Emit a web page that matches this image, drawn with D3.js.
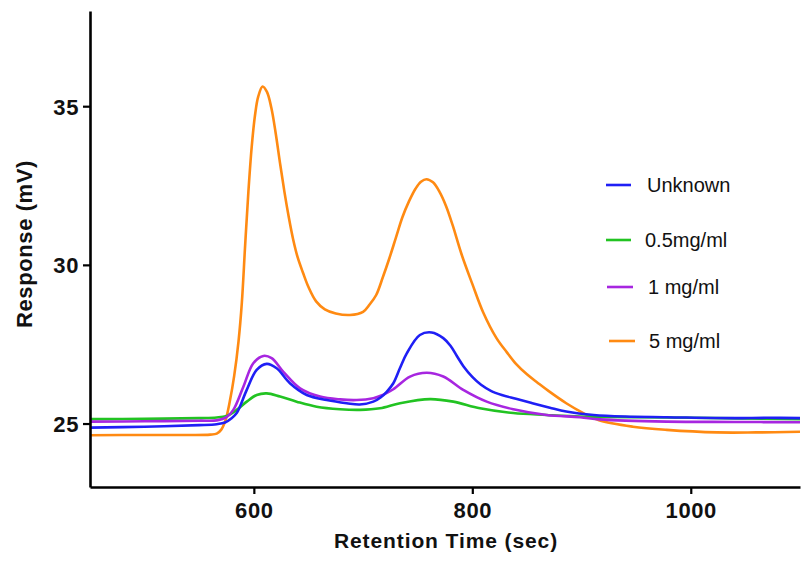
<!DOCTYPE html>
<html><head><meta charset="utf-8">
<script src="https://cdn.jsdelivr.net/npm/d3@7"></script>
<style>
html,body{margin:0;padding:0;background:#fff;}
svg{display:block;font-family:"Liberation Sans",Arial,sans-serif;}
</style></head>
<body>
<svg id="chart" width="802" height="563"></svg>
<script>
// ---- data ----
const seriesNames = ["Unknown", "0.5mg/ml", "1 mg/ml", "5 mg/ml"];
const seriesColors = ["#1f1ff5", "#22c322", "#a726e0", "#ff8a12"];
const xTicks = [600, 800, 1000];
const yTicks = [25, 30, 35];

const unknownX = [450,500,550,566,573.6,579,584.3,593.5,602.6,611.8,620.9,633,648.4,666.7,685,697,709.4,716,721.6,727.7,733.8,740,752,762.8,773.4,780,786,792,800,808,817,827,840,855,871,886,911,940,978,1039,1069,1100];
const unknownY = [24.87,24.9,24.95,24.98,25.03,25.15,25.33,26.06,26.69,26.88,26.74,26.27,25.9,25.74,25.64,25.6,25.69,25.82,26.0,26.27,26.75,27.21,27.79,27.87,27.69,27.45,27.12,26.8,26.47,26.22,26.03,25.9,25.78,25.64,25.5,25.38,25.27,25.22,25.2,25.17,25.18,25.17];

const lowX = [450,500,550,566,575,584.3,593.5,602.6,611.8,624,639.2,657.5,678.9,697.2,715.5,733.8,761.3,782.6,807,837.5,868,898.6,920,1000,1100];
const lowY = [25.14,25.15,25.17,25.19,25.24,25.43,25.69,25.9,25.95,25.85,25.69,25.53,25.45,25.43,25.48,25.64,25.77,25.69,25.48,25.33,25.27,25.22,25.21,25.18,25.14];

const midX = [450,500,550,566,575,581.2,590.4,599.5,608.7,616.3,627,642.3,660.6,678.9,694.2,709.4,718,727.7,743,758.3,773.4,791.7,813.2,837.5,868,898.6,916.9,978,1040,1100];
const midY = [25.06,25.07,25.09,25.1,25.2,25.43,26.16,26.9,27.13,27.06,26.63,26.11,25.85,25.76,25.74,25.8,25.9,26.08,26.48,26.6,26.48,26.06,25.69,25.45,25.27,25.2,25.13,25.06,25.05,25.04];

const highX = [450,500,540,560,566,570,574,578,582,586,589,592,595,598,601,604,608,612,616,620,624,628,632,636,640,645,650,657,665,675,688,700,706,712,718,724,730,736,742,748,753,758,764,770,776,782,790,800,810,822,831.5,840,850,860,870,886,901.6,916,947,978,1024,1060,1100];
const highY = [24.63,24.64,24.64,24.65,24.68,24.8,25.1,25.7,26.5,27.6,28.8,30.6,32.3,33.7,34.7,35.3,35.62,35.45,34.95,34.15,33.2,32.3,31.5,30.8,30.25,29.75,29.3,28.85,28.6,28.47,28.42,28.52,28.75,29.05,29.6,30.2,30.85,31.5,32.0,32.4,32.62,32.7,32.6,32.3,31.85,31.25,30.35,29.4,28.5,27.7,27.25,26.88,26.55,26.28,26.02,25.64,25.33,25.1,24.9,24.8,24.72,24.72,24.74];

const seriesX = [unknownX, lowX, midX, highX];
const seriesY = [unknownY, lowY, midY, highY];

// ---- layout ----
const svg = d3.select("#chart");
const x = d3.scaleLinear().domain([450, 1100]).range([90, 800]);
const y = d3.scaleLinear().domain([23, 38]).range([487, 11]);

svg.append("defs").append("clipPath").attr("id", "clip")
  .append("rect").attr("x", 90).attr("y", 11).attr("width", 712).attr("height", 476);

const line = d3.line().x(d => x(d[0])).y(d => y(d[1])).curve(d3.curveCatmullRom.alpha(0.5));

const drawOrder = [3, 1, 2, 0];
const g = svg.append("g").attr("clip-path", "url(#clip)");
drawOrder.forEach(i => {
  const pts = seriesX[i].map((v, k) => [v, seriesY[i][k]]);
  g.append("path").datum(pts)
    .attr("d", line)
    .attr("fill", "none")
    .attr("stroke", seriesColors[i])
    .attr("stroke-width", 2.6)
    .attr("stroke-linejoin", "round");
});

// axes
const xAxis = svg.append("g").attr("transform", "translate(0,487)")
  .call(d3.axisBottom(x).tickValues(xTicks).tickFormat(d3.format("d")).tickSize(7).tickSizeOuter(0).tickPadding(8));
const yAxis = svg.append("g").attr("transform", "translate(90,0)")
  .call(d3.axisLeft(y).tickValues(yTicks).tickFormat(d3.format("d")).tickSize(7).tickSizeOuter(0).tickPadding(4));

[xAxis, yAxis].forEach(a => {
  a.select(".domain").attr("stroke", "#000").attr("stroke-width", 2.6);
  a.selectAll(".tick line").attr("stroke", "#000").attr("stroke-width", 2.2);
  a.selectAll(".tick text")
    .attr("fill", "#111")
    .style("font-family", "'Liberation Sans', Arial, sans-serif")
    .style("font-size", "22px")
    .style("font-weight", "bold")
    .style("letter-spacing", "0.6px");
});
xAxis.selectAll(".tick text").attr("dy", "0.71em");
yAxis.selectAll(".tick text").attr("dy", "0.36em");

// axis titles
svg.append("text")
  .attr("x", 446).attr("y", 548)
  .attr("text-anchor", "middle")
  .style("font-size", "21px").style("font-weight", "bold")
  .style("letter-spacing", "0.9px")
  .attr("fill", "#111")
  .text("Retention Time (sec)");

svg.append("text")
  .attr("transform", "translate(32,244) rotate(-90)")
  .attr("text-anchor", "middle")
  .style("font-size", "22px").style("font-weight", "bold")
  .style("letter-spacing", "0.6px")
  .attr("fill", "#111")
  .text("Response (mV)");

// legend
const legendY = [185, 240, 287, 341];
const legendLineX = [[606, 631], [606, 631], [607, 633], [609, 635]];
const legendTextX = [647, 645, 648, 649];
seriesNames.forEach((name, i) => {
  svg.append("line")
    .attr("x1", legendLineX[i][0]).attr("x2", legendLineX[i][1])
    .attr("y1", legendY[i]).attr("y2", legendY[i])
    .attr("stroke", seriesColors[i]).attr("stroke-width", 2.6);
  svg.append("text")
    .attr("x", legendTextX[i]).attr("y", legendY[i] + 7)
    .style("font-size", "20px")
    .attr("fill", "#111")
    .text(name);
});
</script>
</body></html>
